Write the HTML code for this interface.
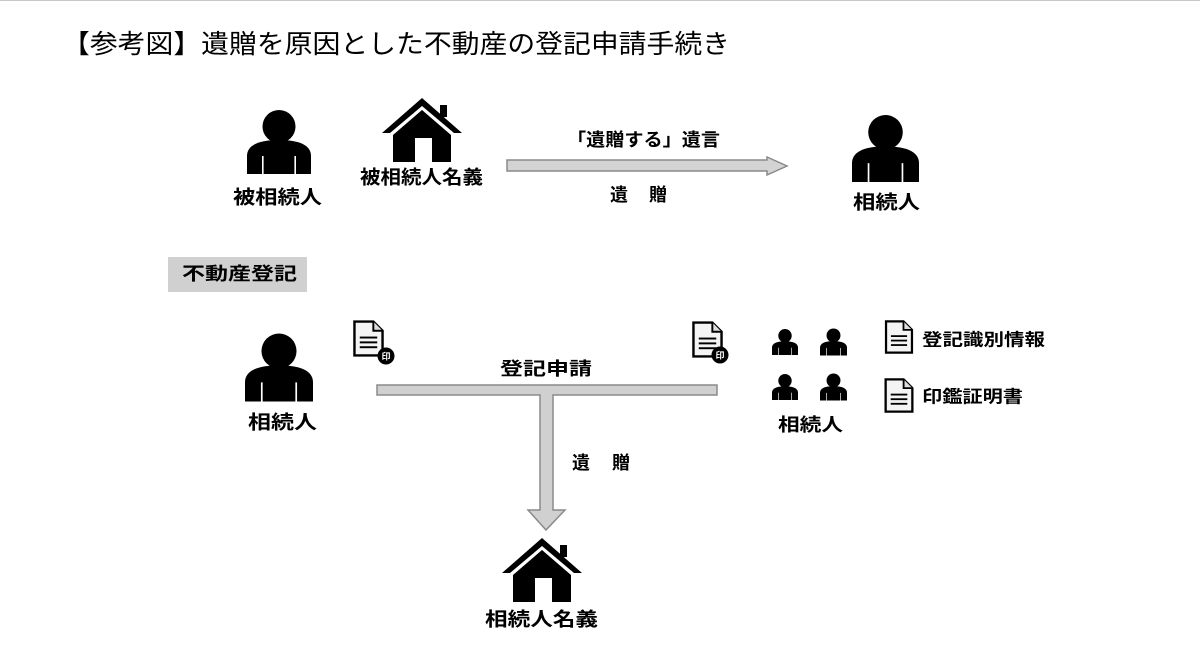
<!DOCTYPE html>
<html><head><meta charset="utf-8"><style>
html,body{margin:0;padding:0;background:#fff;}
svg{display:block;}
text{font-family:"Liberation Sans","Noto Sans CJK JP",sans-serif;fill:#000;}
.b{font-weight:bold;font-size:19px;}
</style></head><body>
<svg width="1200" height="650" viewBox="0 0 1200 650" xmlns="http://www.w3.org/2000/svg">
<defs>
<symbol id="person" viewBox="0 0 64 64">
<circle cx="32" cy="16.5" r="16.5" fill="#000"/>
<path d="M0,64 L0,46 C0,36 10,30 32,30 C54,30 64,36 64,46 L64,64 Z" fill="#000"/>
<rect x="15" y="46" width="1.6" height="18" fill="#fff"/>
<rect x="47.4" y="46" width="1.6" height="18" fill="#fff"/>
</symbol>
<symbol id="house" viewBox="0 0 80 64">
<polygon points="0,35 40,0 80,35 72,35 40,8 8,35" fill="#000"/>
<rect x="58" y="7" width="7" height="12" fill="#000"/>
<polygon points="11,37 40,12 69,37 69,64 11,64" fill="#000"/>
<rect x="33" y="40" width="17" height="24" fill="#fff"/>
</symbol>
<symbol id="doc" viewBox="0 0 32 38">
<path d="M1.5,1.5 L21,1.5 L30.5,11 L30.5,36.5 L1.5,36.5 Z" fill="#f4f4f4" stroke="#000" stroke-width="2.5" stroke-linejoin="miter"/>
<path d="M21,1.5 L21,11 L30.5,11" fill="#ddd" stroke="#000" stroke-width="2"/>
<rect x="7" y="17" width="18" height="2" fill="#000"/>
<rect x="7" y="22" width="18" height="2" fill="#000"/>
<rect x="7" y="27" width="18" height="2" fill="#000"/>
</symbol>
</defs>

<line x1="0" y1="0.5" x2="1200" y2="0.5" stroke="#c8c8c8" stroke-width="1"/>

<!-- Title -->
<text x="62" y="44" font-size="26" dominant-baseline="central" textLength="668" lengthAdjust="spacingAndGlyphs">【参考図】遺贈を原因とした不動産の登記申請手続き</text>

<!-- Top row -->
<use href="#person" x="247" y="110" width="64" height="64"/>
<text class="b" x="277.5" y="198" text-anchor="middle" dominant-baseline="central" textLength="89" lengthAdjust="spacingAndGlyphs">被相続人</text>

<use href="#house" x="382" y="98" width="80" height="64"/>
<text class="b" x="421.5" y="178" text-anchor="middle" dominant-baseline="central" textLength="123" lengthAdjust="spacingAndGlyphs">被相続人名義</text>

<polygon points="507,160 767,160 767,157 787,166 767,175 767,171 507,171" fill="#d3d3d3" stroke="#8a8a8a" stroke-width="1.5"/>
<text class="b" x="643.5" y="140" font-size="18" text-anchor="middle" dominant-baseline="central" textLength="153" lengthAdjust="spacingAndGlyphs" style="font-size:18px">「遺贈する」遺言</text>
<text class="b" x="638.5" y="195" text-anchor="middle" dominant-baseline="central" textLength="57" lengthAdjust="spacing" style="font-size:18px">遺　贈</text>

<use href="#person" x="852" y="114" width="67" height="69"/>
<text class="b" x="886.5" y="203" text-anchor="middle" dominant-baseline="central" textLength="67" lengthAdjust="spacingAndGlyphs">相続人</text>

<!-- 不動産登記 box -->
<rect x="168" y="257" width="139" height="35" fill="#d0d0d0"/>
<text class="b" x="239.5" y="274" text-anchor="middle" dominant-baseline="central" textLength="115" lengthAdjust="spacingAndGlyphs" style="font-size:18px">不動産登記</text>

<!-- Middle row -->
<use href="#person" x="245" y="332" width="68" height="71"/>
<text class="b" x="282.5" y="423" text-anchor="middle" dominant-baseline="central" textLength="69" lengthAdjust="spacingAndGlyphs">相続人</text>

<!-- doc icons with stamp -->
<use href="#doc" x="353" y="320" width="31" height="37"/>
<circle cx="386" cy="356" r="8.5" fill="#000"/>
<text x="386" y="356.5" font-size="9" font-weight="bold" text-anchor="middle" dominant-baseline="central" style="fill:#fff">印</text>

<use href="#doc" x="692" y="321" width="31" height="37"/>
<circle cx="720" cy="355" r="8.5" fill="#000"/>
<text x="720" y="355.5" font-size="9" font-weight="bold" text-anchor="middle" dominant-baseline="central" style="fill:#fff">印</text>

<!-- T connector -->
<polygon points="377,385 717,385 717,395 553,395 553,510 565,510 546,530 528,510 540,510 540,395 377,395" fill="#d0d0d0" stroke="#8a8a8a" stroke-width="1.5"/>
<text class="b" x="546" y="369" text-anchor="middle" dominant-baseline="central" textLength="92" lengthAdjust="spacingAndGlyphs" style="font-size:18px">登記申請</text>
<text class="b" x="601" y="463" text-anchor="middle" dominant-baseline="central" textLength="58" lengthAdjust="spacing" style="font-size:18px">遺　贈</text>

<use href="#house" x="502" y="538" width="80" height="64"/>
<text class="b" x="541.5" y="620" text-anchor="middle" dominant-baseline="central" textLength="113" lengthAdjust="spacingAndGlyphs">相続人名義</text>

<!-- Small group of persons -->
<use href="#person" x="772" y="327" width="26" height="30"/>
<use href="#person" x="820" y="327" width="27" height="30"/>
<use href="#person" x="772" y="372" width="26" height="30"/>
<use href="#person" x="820" y="372" width="27" height="30"/>
<text class="b" x="810.5" y="425" text-anchor="middle" dominant-baseline="central" textLength="65" lengthAdjust="spacingAndGlyphs" style="font-size:18px">相続人</text>

<use href="#doc" x="883" y="320" width="32" height="34"/>
<text class="b" x="922" y="340" dominant-baseline="central" textLength="123" lengthAdjust="spacingAndGlyphs" style="font-size:17px">登記識別情報</text>
<use href="#doc" x="883" y="378" width="32" height="35"/>
<text class="b" x="922" y="397" dominant-baseline="central" textLength="101" lengthAdjust="spacingAndGlyphs" style="font-size:17px">印鑑証明書</text>
</svg>
</body></html>
